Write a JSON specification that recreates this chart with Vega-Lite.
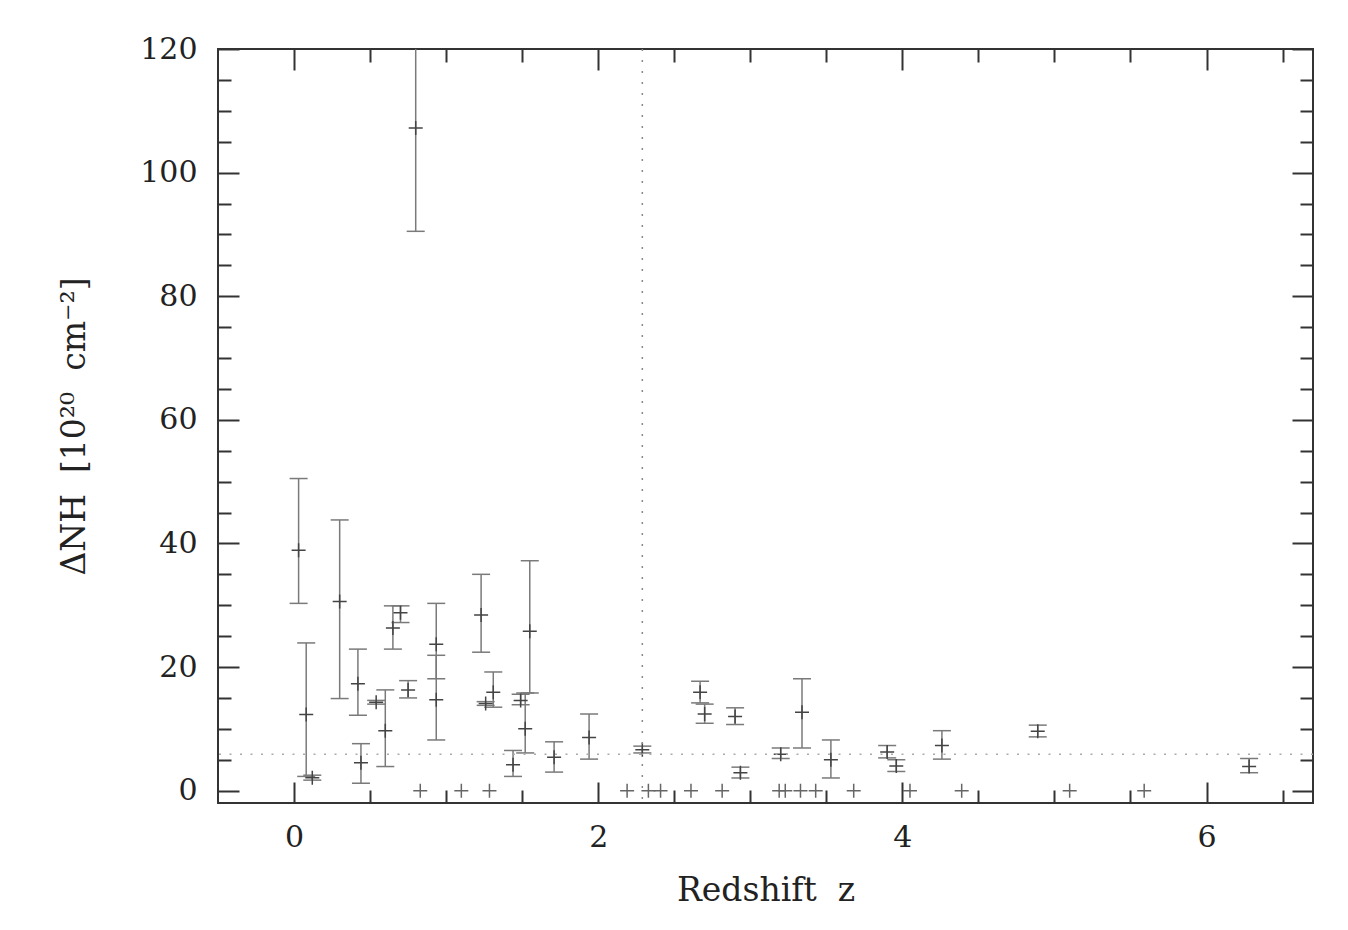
{
  "$schema": "https://vega.github.io/schema/vega-lite/v6.json",
  "width": 1095,
  "height": 754,
  "autosize": {"type": "none"},
  "padding": {"left": 218, "top": 49, "right": 35, "bottom": 127},
  "background": "white",
  "config": {
    "view": {"stroke": "#333", "strokeWidth": 2},
    "font": "DejaVu Serif"
  },
  "datasets": {
    "pts": [
      {"z": 0.03, "nh": 38.9, "lo": 30.3, "hi": 50.5},
      {"z": 0.08, "nh": 12.3, "lo": 2.3, "hi": 23.9},
      {"z": 0.12, "nh": 2.1, "lo": 1.7, "hi": 2.5},
      {"z": 0.30, "nh": 30.6, "lo": 14.9, "hi": 43.8},
      {"z": 0.42, "nh": 17.3, "lo": 12.2, "hi": 22.9},
      {"z": 0.44, "nh": 4.5, "lo": 1.2, "hi": 7.6},
      {"z": 0.54, "nh": 14.3, "lo": 14.0, "hi": 14.6},
      {"z": 0.60, "nh": 9.7, "lo": 3.9, "hi": 16.3},
      {"z": 0.65, "nh": 26.3, "lo": 22.9, "hi": 29.9},
      {"z": 0.70, "nh": 28.8, "lo": 27.2, "hi": 29.9},
      {"z": 0.75, "nh": 16.3, "lo": 15.0, "hi": 17.8},
      {"z": 0.80, "nh": 107.2, "lo": 90.5, "hi": 125},
      {"z": 0.935, "nh": 23.7, "lo": 18.1, "hi": 30.3},
      {"z": 0.935, "nh": 14.7, "lo": 8.2, "hi": 21.9},
      {"z": 1.23, "nh": 28.4, "lo": 22.4, "hi": 35.0},
      {"z": 1.26, "nh": 14.1, "lo": 13.8, "hi": 14.4},
      {"z": 1.31, "nh": 15.9, "lo": 13.5, "hi": 19.2},
      {"z": 1.44, "nh": 4.2, "lo": 2.3, "hi": 6.5},
      {"z": 1.49, "nh": 14.6, "lo": 13.9, "hi": 15.6},
      {"z": 1.52, "nh": 10.0, "lo": 6.1, "hi": 15.8},
      {"z": 1.55, "nh": 25.8, "lo": 15.8, "hi": 37.2},
      {"z": 1.71, "nh": 5.4, "lo": 3.0, "hi": 7.9},
      {"z": 1.94, "nh": 8.6, "lo": 5.1, "hi": 12.4},
      {"z": 2.29, "nh": 6.6, "lo": 6.1, "hi": 7.2},
      {"z": 2.67, "nh": 15.9, "lo": 14.2, "hi": 17.7},
      {"z": 2.70, "nh": 12.4, "lo": 10.9, "hi": 14.0},
      {"z": 2.90, "nh": 12.0, "lo": 10.7, "hi": 13.4},
      {"z": 2.935, "nh": 2.9, "lo": 2.05, "hi": 3.8},
      {"z": 3.20, "nh": 5.9, "lo": 5.2, "hi": 6.9},
      {"z": 3.34, "nh": 12.7, "lo": 6.9, "hi": 18.1},
      {"z": 3.53, "nh": 5.0, "lo": 2.05, "hi": 8.2},
      {"z": 3.90, "nh": 6.25, "lo": 5.3, "hi": 7.3},
      {"z": 3.96, "nh": 4.0, "lo": 3.1, "hi": 5.0},
      {"z": 4.26, "nh": 7.3, "lo": 5.1, "hi": 9.7},
      {"z": 4.89, "nh": 9.6, "lo": 8.7, "hi": 10.6},
      {"z": 6.28, "nh": 3.9, "lo": 2.9, "hi": 5.2}
    ],
    "zeros": [
      {"z": 0.83, "nh": 0}, {"z": 1.10, "nh": 0}, {"z": 1.285, "nh": 0},
      {"z": 2.19, "nh": 0}, {"z": 2.33, "nh": 0}, {"z": 2.41, "nh": 0},
      {"z": 2.61, "nh": 0}, {"z": 2.815, "nh": 0}, {"z": 3.19, "nh": 0},
      {"z": 3.23, "nh": 0}, {"z": 3.33, "nh": 0}, {"z": 3.43, "nh": 0},
      {"z": 3.68, "nh": 0}, {"z": 4.05, "nh": 0}, {"z": 4.39, "nh": 0},
      {"z": 5.10, "nh": 0}, {"z": 5.59, "nh": 0}
    ],
    "vref": [{"z": 2.29}],
    "href": [{"nh": 5.9}]
  },
  "layer": [
    {
      "data": {"name": "pts"},
      "mark": {"type": "rule", "color": "#7a7a7a", "strokeWidth": 1.5, "clip": true},
      "encoding": {
        "x": {
          "field": "z", "type": "quantitative",
          "scale": {"domain": [-0.5, 6.7], "nice": false, "zero": false},
          "axis": {
            "orient": "bottom",
            "values": [0, 0.5, 1, 1.5, 2, 2.5, 3, 3.5, 4, 4.5, 5, 5.5, 6, 6.5],
            "format": "~g",
            "tickSize": {"condition": {"test": "datum.value % 2 === 0", "value": -21}, "value": -13},
            "tickColor": "#333", "tickWidth": 2,
            "labelExpr": "datum.value % 2 === 0 ? datum.label : ''",
            "labelFont": "DejaVu Serif", "labelFontSize": 30, "labelColor": "#222",
            "labelPadding": 40,
            "domain": false, "grid": false,
            "title": "Redshift\u00a0\u00a0z", "titleFont": "DejaVu Serif", "titleFontSize": 33,
            "titleFontWeight": "normal", "titleColor": "#222", "titlePadding": 22
          }
        },
        "y": {
          "field": "lo", "type": "quantitative",
          "scale": {"domain": [-2, 120], "nice": false, "zero": false},
          "axis": {
            "orient": "left",
            "values": [0, 5, 10, 15, 20, 25, 30, 35, 40, 45, 50, 55, 60, 65, 70, 75, 80, 85, 90, 95, 100, 105, 110, 115, 120],
            "tickSize": {"condition": {"test": "datum.value % 20 === 0", "value": -21}, "value": -13},
            "tickColor": "#333", "tickWidth": 2,
            "labelExpr": "datum.value % 20 === 0 ? datum.label : ''",
            "labelFont": "DejaVu Serif", "labelFontSize": 30, "labelColor": "#222",
            "labelPadding": 42,
            "domain": false, "grid": false,
            "title": "ΔNH\u00a0\u00a0[10²⁰\u00a0\u00a0cm⁻²]", "titleFont": "DejaVu Serif", "titleFontSize": 33,
            "titleFontWeight": "normal", "titleColor": "#222", "titlePadding": 48
          }
        },
        "y2": {"field": "hi"}
      }
    },
    {
      "data": {"name": "pts"},
      "mark": {"type": "point", "shape": "M-1,0H1", "size": 324, "filled": false, "color": "#7a7a7a", "strokeWidth": 1.5, "opacity": 1, "clip": true},
      "encoding": {
        "x": {
          "field": "z", "type": "quantitative",
          "scale": {"domain": [-0.5, 6.7], "nice": false, "zero": false},
          "axis": {
            "orient": "top",
            "values": [0, 0.5, 1, 1.5, 2, 2.5, 3, 3.5, 4, 4.5, 5, 5.5, 6, 6.5],
            "tickSize": {"condition": {"test": "datum.value % 2 === 0", "value": -21}, "value": -13},
            "tickColor": "#333", "tickWidth": 2,
            "labels": false, "domain": false, "grid": false, "title": null
          }
        },
        "y": {
          "field": "lo", "type": "quantitative",
          "scale": {"domain": [-2, 120], "nice": false, "zero": false},
          "axis": {
            "orient": "right",
            "values": [0, 5, 10, 15, 20, 25, 30, 35, 40, 45, 50, 55, 60, 65, 70, 75, 80, 85, 90, 95, 100, 105, 110, 115, 120],
            "tickSize": {"condition": {"test": "datum.value % 20 === 0", "value": -21}, "value": -13},
            "tickColor": "#333", "tickWidth": 2,
            "labels": false, "domain": false, "grid": false, "title": null
          }
        }
      }
    },
    {
      "data": {"name": "pts"},
      "mark": {"type": "point", "shape": "M-1,0H1", "size": 324, "filled": false, "color": "#7a7a7a", "strokeWidth": 1.5, "opacity": 1, "clip": true},
      "encoding": {
        "x": {"field": "z", "type": "quantitative", "scale": {"domain": [-0.5, 6.7], "nice": false, "zero": false}, "axis": null},
        "y": {"field": "hi", "type": "quantitative", "scale": {"domain": [-2, 120], "nice": false, "zero": false}, "axis": null}
      }
    },
    {
      "data": {"name": "pts"},
      "mark": {"type": "point", "shape": "M-1,0H1M0,-1V1", "size": 196, "filled": false, "color": "#444", "strokeWidth": 1.5, "opacity": 1, "clip": true},
      "encoding": {
        "x": {"field": "z", "type": "quantitative", "scale": {"domain": [-0.5, 6.7], "nice": false, "zero": false}, "axis": null},
        "y": {"field": "nh", "type": "quantitative", "scale": {"domain": [-2, 120], "nice": false, "zero": false}, "axis": null}
      }
    },
    {
      "data": {"name": "zeros"},
      "mark": {"type": "point", "shape": "M-1,0H1M0,-1V1", "size": 196, "filled": false, "color": "#666", "strokeWidth": 1.5, "opacity": 1, "clip": true},
      "encoding": {
        "x": {"field": "z", "type": "quantitative", "scale": {"domain": [-0.5, 6.7], "nice": false, "zero": false}, "axis": null},
        "y": {"field": "nh", "type": "quantitative", "scale": {"domain": [-2, 120], "nice": false, "zero": false}, "axis": null}
      }
    },
    {
      "data": {"name": "vref"},
      "mark": {"type": "rule", "color": "#888", "strokeWidth": 1.5, "strokeDash": [2, 9]},
      "encoding": {
        "x": {"field": "z", "type": "quantitative", "scale": {"domain": [-0.5, 6.7], "nice": false, "zero": false}, "axis": null}
      }
    },
    {
      "data": {"name": "href"},
      "mark": {"type": "rule", "color": "#aaa", "strokeWidth": 1.5, "strokeDash": [2, 8.5]},
      "encoding": {
        "y": {"field": "nh", "type": "quantitative", "scale": {"domain": [-2, 120], "nice": false, "zero": false}, "axis": null}
      }
    }
  ],
  "resolve": {"axis": {"x": "independent", "y": "independent"}}
}
